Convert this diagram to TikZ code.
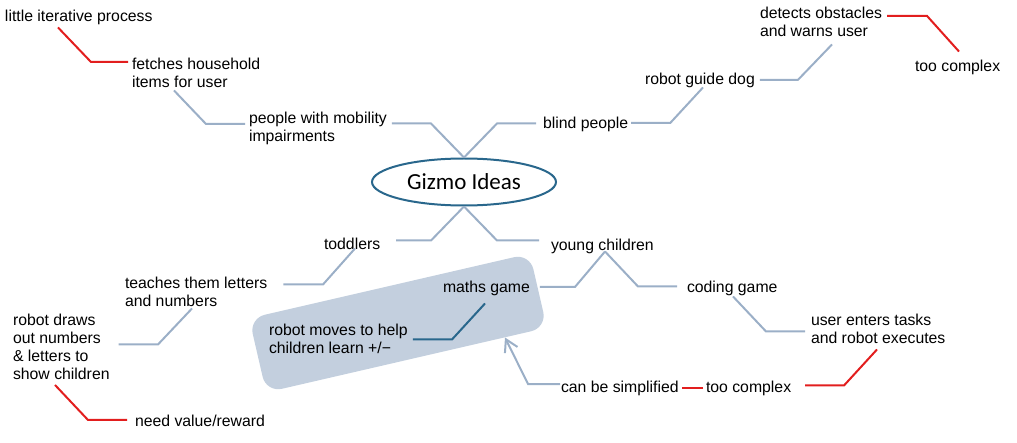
\documentclass[tikz,border=0pt]{standalone}
\usepackage{fontspec}
\setmainfont{Liberation Sans}
\newfontfamily\gizfont{Carlito}
\usetikzlibrary{arrows.meta,calc,shapes.geometric}
\definecolor{cblue}{RGB}{155,175,199}
\definecolor{cred}{RGB}{226,30,30}
\definecolor{cteal}{RGB}{41,103,140}
\definecolor{cbox}{RGB}{195,207,222}
\newcommand\tst{\rule[-3.5pt]{0pt}{14.5pt}}
\newcommand\nl{\\\tst}
\begin{document}
\begin{tikzpicture}[x=1pt,y=1pt,
  txt/.style={inner sep=0pt, outer sep=0pt, anchor=west, align=left, yshift=-2.5pt,
    font=\fontsize{15.8}{18}\selectfont, execute at begin node=\tst},
  cb/.style={draw=cblue, line width=2pt},
  cr/.style={draw=cred, line width=2pt},
  ct/.style={draw=cteal, line width=2pt},
  bubble/.style={fill=cbox, draw=none, rounded corners=16pt, inner sep=0pt,
    minimum width=288pt, minimum height=76pt},
  hub/.style={ellipse, draw=cteal, line width=2pt, inner sep=0pt,
    minimum width=184pt, minimum height=47pt,
    font=\gizfont\fontsize{23}{26}\selectfont}]
\useasboundingbox (0,0) rectangle (1017,-443);

% group bubble
\node[bubble, rotate=13] (box) at (398,-323) {};

% nodes
\node[txt] (lip) at (5,-15) {little iterative process};
\node[txt] (fh) at (132,-72) {fetches household\nl items for user};
\node[txt] (pm) at (249,-126) {people with mobility\nl impairments};
\node[txt] (blind) at (543,-122) {blind people};
\node[txt] (rgd) at (645,-78) {robot guide dog};
\node[txt] (det) at (760,-21) {detects obstacles\nl and warns user};
\node[txt] (tc1) at (915,-65) {too complex};
\node[hub] (giz) at (464,-182) {Gizmo Ideas};
\node[txt] (tod) at (324,-243) {toddlers};
\node[txt] (yc) at (551,-244) {young children};
\node[txt] (teach) at (125,-291) {teaches them letters\nl and numbers};
\node[txt] (rdraw) at (13,-346.5) {robot draws\nl out numbers\nl \& letters to\nl show children};
\node[txt] (nv) at (135,-420) {need value/reward};
\node[txt] (maths) at (443,-286) {maths game};
\node[txt] (rm) at (269,-338) {robot moves to help\nl children learn +/−};
\node[txt] (cg) at (687,-286) {coding game};
\node[txt] (uet) at (811,-328) {user enters tasks\nl and robot executes};
\node[txt] (tc2) at (706,-386) {too complex};
\node[txt] (cbs) at (561,-386) {can be simplified};

% connectors
\draw[cr] ([shift={(-4,12.5)}]fh.west) -- ++(-37,0) -- ([shift={(53,-2.5)}]lip.south west);
\draw[cb] ([shift={(-4,4.5)}]pm.west) -- ++(-39,0) -- ([shift={(42,0.5)}]fh.south west);
\draw[cb] (giz.north) -- ++(-33,34) coordinate (b1) -- ([xshift=5pt]b1 -| pm.east);
\draw[cb] (giz.north) -- ++(33,34) coordinate (b2) -- ([xshift=-7pt]b2 -| blind.west);
\draw[cb] ([shift={(3,1.5)}]blind.east) -- ++(39,0) -- ([shift={(58,0.5)}]rgd.south west);
\draw[cb] ([shift={(5,0.5)}]rgd.east) -- ++(38,0) -- ([shift={(72,-4.5)}]det.south west);
\draw[cr] ([shift={(5,7.5)}]det.east) -- ++(40,0) -- ([shift={(44,8.5)}]tc1.north west);
\draw[cb] (giz.south) -- ++(-33,-34) coordinate (b3) -- ([xshift=16pt]b3 -| tod.east);
\draw[cb] (giz.south) -- ++(33,-34) coordinate (b4) -- ([xshift=-12pt]b4 -| yc.west);
\draw[cb] ([shift={(31,4.5)}]tod.south west) -- ++(-32,-36) coordinate (b5) -- ([xshift=16pt]b5 -| teach.east);
\draw[cb] ([shift={(67,1.5)}]teach.south west) -- ++(-34,-36) coordinate (b6) -- ([xshift=9pt]b6 -| rdraw.east);
\draw[cr] ([shift={(42,-1.5)}]rdraw.south west) -- ++(33,-35) coordinate (b7) -- ([xshift=-8pt]b7 -| nv.west);
\draw[cb] ([shift={(10,1.5)}]maths.east) -- ++(35,0) -- ([shift={(54,2.5)}]yc.south west);
\draw[cb] ([shift={(54,2.5)}]yc.south west) -- ++(33,-35) coordinate (b8) -- ([xshift=-10pt]b8 -| cg.west);
\draw[cb] ([shift={(46,-0.5)}]cg.south west) -- ++(33,-35) coordinate (b9) -- ([xshift=-6pt]b9 -| uet.west);
\draw[cr] ([shift={(66,-2.5)}]uet.south west) -- ++(-33,-36) coordinate (b10) -- ([xshift=14pt]b10 -| tc2.east);
\draw[cr] ([shift={(-3,0.5)}]tc2.west) -- ([shift={(3,0.5)}]cbs.east);
\draw[cb, -{Straight Barb[length=12pt,width=14pt]}] ([shift={(-1,4.5)}]cbs.west) -- ++(-32,0) -- ($(box.south)!101pt!(box.south east)$);
\draw[ct] ([shift={(42,-7.5)}]maths.south west) -- ++(-33,-36) coordinate (b11) -- ([xshift=5pt]b11 -| rm.east);
\end{tikzpicture}
\end{document}
